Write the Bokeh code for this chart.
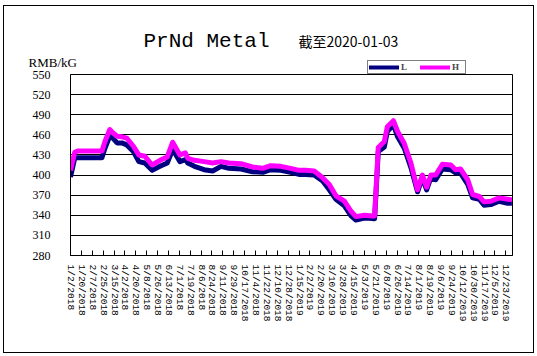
import pandas as pd
from bokeh.plotting import figure
from bokeh.layouts import column
from bokeh.models import Range1d, FixedTicker, Label, Legend, LegendItem
from bokeh.embed import file_html
from bokeh.resources import INLINE

# ---- data ----
dates = ["2018-01-02", "2018-01-09", "2018-01-14", "2018-02-23", "2018-02-28", "2018-03-08",
         "2018-03-13", "2018-03-20", "2018-03-28", "2018-04-05", "2018-04-16", "2018-04-25",
         "2018-05-05", "2018-05-17", "2018-05-30", "2018-06-11", "2018-06-20", "2018-07-02",
         "2018-07-11", "2018-07-15", "2018-07-26", "2018-08-11", "2018-08-25", "2018-09-08",
         "2018-09-21", "2018-10-11", "2018-10-30", "2018-11-16", "2018-11-29", "2018-12-16",
         "2019-01-01", "2019-01-15", "2019-01-26", "2019-02-09", "2019-02-23", "2019-03-06",
         "2019-03-17", "2019-03-31", "2019-04-11", "2019-04-19", "2019-05-03", "2019-05-17",
         "2019-05-20", "2019-05-26", "2019-06-05", "2019-06-10", "2019-06-20", "2019-06-27",
         "2019-07-08", "2019-07-19", "2019-07-30", "2019-08-07", "2019-08-14", "2019-08-21",
         "2019-08-29", "2019-09-09", "2019-09-23", "2019-10-01", "2019-10-09", "2019-10-21",
         "2019-10-29", "2019-11-09", "2019-11-17", "2019-11-28", "2019-12-12", "2019-12-26",
         "2020-01-02"]

L_vals = [397, 425, 426, 426, 440, 458,
          455, 448, 448, 445, 435, 420,
          418, 407, 413, 418, 438, 420,
          423, 418, 413, 408, 406, 413,
          410, 409, 405, 404, 408, 407,
          404, 401, 401, 400, 391, 378,
          364, 354, 339, 333, 336, 335,
          335, 435, 442, 465, 475, 457,
          440, 411, 375, 396, 378, 396,
          393, 409, 408, 403, 403, 386,
          366, 364, 355, 356, 361, 358,
          358]

H_vals = [407, 434, 436, 436, 450, 468,
          463, 458, 457, 455, 443, 430,
          428, 415, 422, 427, 449, 430,
          433, 425, 422, 420, 418, 420,
          418, 417, 412, 410, 414, 413,
          410, 407, 407, 406, 396, 386,
          369, 361, 346, 338, 340, 339,
          339, 441, 450, 472, 481, 465,
          447, 418, 378, 400, 382, 400,
          400, 416, 415, 408, 409, 393,
          371, 368, 360, 361, 366, 364,
          363]

tick_labels = ["1/2/2018", "1/20/2018", "2/7/2018", "2/25/2018", "3/15/2018", "4/2/2018",
               "4/20/2018", "5/8/2018", "5/26/2018", "6/13/2018", "7/1/2018", "7/19/2018",
               "8/6/2018", "8/24/2018", "9/11/2018", "9/29/2018", "10/17/2018", "11/4/2018",
               "11/22/2018", "12/10/2018", "12/28/2018", "1/15/2019", "2/2/2019", "2/20/2019",
               "3/10/2019", "3/28/2019", "4/15/2019", "5/3/2019", "5/21/2019", "6/8/2019",
               "6/26/2019", "7/14/2019", "8/1/2019", "8/19/2019", "9/6/2019", "9/24/2019",
               "10/12/2019", "10/30/2019", "11/17/2019", "12/5/2019", "12/23/2019"]

y_ticks = [280, 310, 340, 370, 400, 430, 460, 490, 520, 550]

title_text = "PrNd Metal"
date_text = "截至2020-01-03"
unit_text = "RMB/kG"
series_names = ["L", "H"]
series_colors = ["#000080", "#FF00FF"]

start = pd.Timestamp("2018-01-02")
end = pd.Timestamp("2020-01-03")
day = [(pd.Timestamp(d) - start).days for d in dates]
tick_days = [(pd.to_datetime(t, format="%m/%d/%Y") - start).days for t in tick_labels]
x_end = (end - start).days

W = 529
BORDER_L, BORDER_R = 66, 21        # shared (aligned) frame borders
FRAME_L_PAGE, FRAME_R_PAGE = 70, 512
TOP_H = 68
BOT_TOP = 26
BOT_H = 346 - TOP_H + BOT_TOP

# ---------- header (title, date, legend); frame aligned with chart frame ----------
top = figure(width=W, height=TOP_H, output_backend="svg", toolbar_location=None, title=None,
             x_range=Range1d(FRAME_L_PAGE, FRAME_R_PAGE), y_range=Range1d(0, TOP_H),
             x_axis_type=None, y_axis_type=None,
             min_border_left=BORDER_L, min_border_right=BORDER_R, min_border_top=0, min_border_bottom=0)
top.grid.visible = False
top.outline_line_color = None
top.background_fill_color = "white"
top.border_fill_color = "white"

top.add_layout(Label(x=143, y=33.3, text=title_text, text_font="Liberation Mono",
                     text_font_size="21px", text_color="black", text_baseline="alphabetic"))
top.add_layout(Label(x=298, y=33.3, text=date_text, text_font="Noto Sans CJK SC",
                     text_font_size="14px", text_color="black", text_baseline="alphabetic"))

# legend-only renderers (single point -> nothing drawn in the header itself)
leg_r = [top.line(x=[FRAME_L_PAGE], y=[0], line_color=c, line_width=4, line_cap="round")
         for c in series_colors]
legend = Legend(items=[LegendItem(label=n, renderers=[r]) for n, r in zip(series_names, leg_r)],
                orientation="horizontal", location=(297, 0),
                border_line_color="black", border_line_width=1,
                background_fill_color="white", background_fill_alpha=1,
                label_text_font="Liberation Serif", label_text_font_size="9px",
                label_text_font_style="bold", glyph_width=30, glyph_height=8,
                label_width=12, label_height=8, label_standoff=2, spacing=7, padding=1, margin=0)
top.add_layout(legend)

# ---------- chart ----------
p = figure(width=W, height=BOT_H, output_backend="svg", toolbar_location=None,
           title=unit_text,
           x_range=Range1d(0, x_end), y_range=Range1d(y_ticks[0], y_ticks[-1]),
           min_border_left=BORDER_L, min_border_right=BORDER_R, min_border_top=BOT_TOP,
           min_border_bottom=97)
p.styles = {"margin-top": "-%dpx" % BOT_TOP}
p.title.align = "left"
p.title.offset = -42
p.title.standoff = 9
p.title.text_font = "Liberation Serif"
p.title.text_font_size = "13px"
p.title.text_font_style = "normal"
p.title.text_color = "black"
p.title.vertical_align = "bottom"
p.background_fill_color = "white"
p.border_fill_color = None
p.outline_line_color = "black"
p.outline_line_width = 1
p.xgrid.visible = False
p.ygrid.grid_line_color = "black"
p.ygrid.grid_line_alpha = 1.0
p.ygrid.grid_line_width = 1

p.yaxis.ticker = FixedTicker(ticks=y_ticks)
p.yaxis.major_tick_out = 0
p.yaxis.major_tick_in = 0
p.yaxis.minor_tick_line_color = None
p.yaxis.axis_line_color = "black"
p.yaxis.major_label_standoff = 20
p.yaxis.major_label_text_font = "Liberation Serif"
p.yaxis.major_label_text_font_size = "12px"
p.yaxis.major_label_text_color = "black"

p.xaxis.ticker = FixedTicker(ticks=tick_days)
p.xaxis.major_label_overrides = {d: t for d, t in zip(tick_days, tick_labels)}
p.xaxis.major_label_orientation = "vertical"
p.xaxis.major_tick_in = 5
p.xaxis.major_tick_out = 0
p.xaxis.minor_tick_line_color = None
p.xaxis.axis_line_color = "black"
p.xaxis.major_tick_line_color = "black"
p.xaxis.major_label_standoff = 9
p.xaxis.major_label_text_font = "Liberation Mono"
p.xaxis.major_label_text_font_size = "9.5px"
p.xaxis.major_label_text_color = "black"

p.line(day, L_vals, line_color=series_colors[0], line_width=5, line_join="round")
p.line(day, H_vals, line_color=series_colors[1], line_width=5, line_join="round")

layout = column(top, p, spacing=0,
                styles={"border": "1px solid black", "margin-left": "3px", "margin-top": "5px"})

open("out.html", "w").write(file_html(layout, INLINE))
